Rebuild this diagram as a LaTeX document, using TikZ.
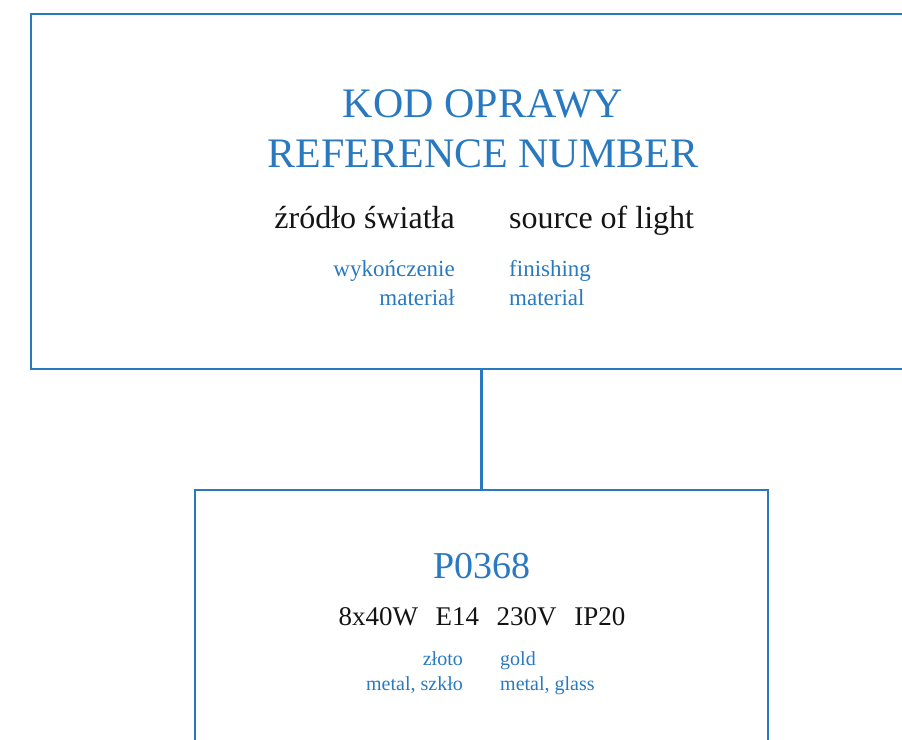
\documentclass[tikz,border=0pt]{standalone}
\usepackage{fontspec}
\setmainfont{Liberation Serif}
\usepackage{xcolor}
\usepackage{tikz}
\definecolor{frameblue}{RGB}{41, 121, 193}
\definecolor{textblack}{RGB}{20, 20, 20}
\usetikzlibrary{positioning}

\begin{document}
\begin{tikzpicture}[
    x=1pt, y=-1pt,
    panel/.style={rectangle, draw=frameblue, line width=2.2pt, inner sep=0pt},
    title/.style={text=frameblue, font=\fontsize{42}{50}\selectfont, inner sep=0pt},
    headline/.style={text=textblack, font=\fontsize{32}{38}\selectfont, inner sep=0pt},
    subline/.style={text=frameblue, font=\fontsize{23}{28}\selectfont, inner sep=0pt},
    code/.style={text=frameblue, font=\fontsize{38}{44}\selectfont, inner sep=0pt},
    spec/.style={text=textblack, font=\fontsize{27}{32}\selectfont, inner sep=0pt},
    detail/.style={text=frameblue, font=\fontsize{20}{24}\selectfont, inner sep=0pt},
    link/.style={draw=frameblue, line width=2.2pt}
]
    \useasboundingbox (0,0) rectangle (902,739);

    % Reference box
    \node[panel, minimum width=901pt, minimum height=355pt] (refbox) at (481.5, 191.5) {};
    \node[title, anchor=base] (kod) at (483, 117) {KOD OPRAWY};
    \node[title, anchor=base] (refnum) at (483, 167) {REFERENCE NUMBER};
    \node[headline, anchor=base east] (zrodlo) at (455, 228) {źródło światła};
    \node[headline, anchor=base west] (source) at (509, 228) {source of light};
    \node[subline, anchor=base east] (wyk) at (455, 276) {wykończenie};
    \node[subline, anchor=base west] (finish) at (509, 276) {finishing};
    \node[subline, anchor=base east] (matpl) at (455, 305) {materiał};
    \node[subline, anchor=base west] (maten) at (509, 305) {material};

    % Product box
    \node[panel, minimum width=573pt, minimum height=290pt] (prodbox) at (481.5, 635) {};
    \node[code, anchor=base] (pcode) at (482, 578) {P0368};
    \node[spec, anchor=base] (pspec) at (482, 625)
        {8x40W\hspace{0.65em}E14\hspace{0.65em}230V\hspace{0.65em}IP20};
    \node[detail, anchor=base east] (zloto) at (463, 665) {złoto};
    \node[detail, anchor=base west] (gold) at (500, 665) {gold};
    \node[detail, anchor=base east] (szklo) at (463, 690) {metal, szkło};
    \node[detail, anchor=base west] (glass) at (500, 690) {metal, glass};

    % Connector
    \draw[link] (refbox.south) -- (prodbox.north);
\end{tikzpicture}
\end{document}
